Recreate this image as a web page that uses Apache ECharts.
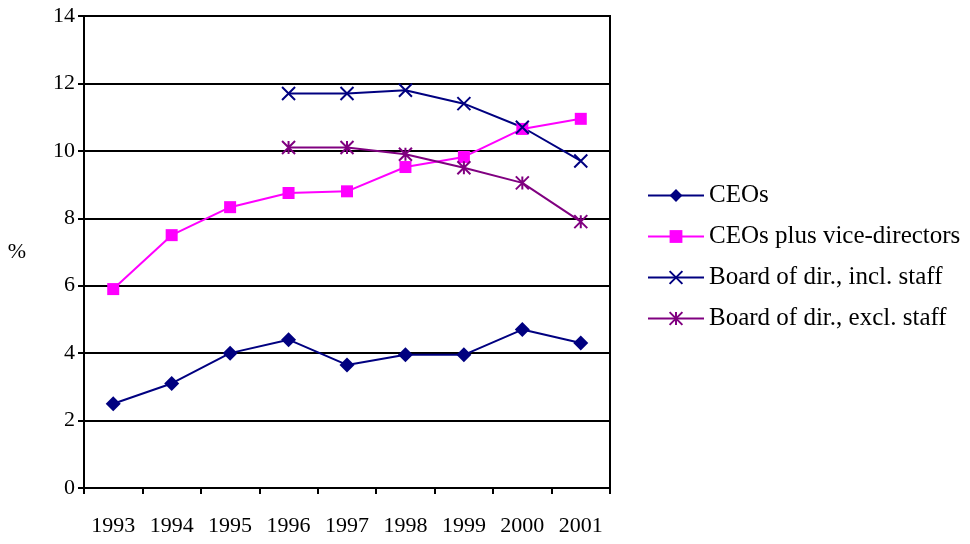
<!DOCTYPE html>
<html><head><meta charset="utf-8">
<script src="https://cdn.jsdelivr.net/npm/echarts@6/dist/echarts.min.js"></script>
<style>html,body{margin:0;padding:0;background:#fff}#c{width:970px;height:544px}</style>
</head><body><div id="c"></div>
<script>
const years = ['1993','1994','1995','1996','1997','1998','1999','2000','2001'];
const ceos = [2.5, 3.1, 4.0, 4.4, 3.65, 3.95, 3.95, 4.7, 4.3];
const ceosVice = [5.9, 7.5, 8.33, 8.75, 8.8, 9.52, 9.82, 10.65, 10.95];
const boardIncl = [null, null, null, 11.7, 11.7, 11.8, 11.4, 10.7, 9.7];
const boardExcl = [null, null, null, 10.1, 10.1, 9.9, 9.5, 9.05, 7.9];
const names = ['CEOs', 'CEOs plus vice-directors', 'Board of dir., incl. staff', 'Board of dir., excl. staff'];

const font = 'Liberation Serif';
const fs = 22;
const crossPath = 'path://M0,0L10,10M10,0L0,10';
const starPath = 'path://M0,0L10,10M10,0L0,10M5,0L5,10';

const chart = echarts.init(document.getElementById('c'));
chart.setOption({
  animation: false,
  textStyle: {fontFamily: font},
  grid: {left: 84, right: 360, top: 16, bottom: 56, show: true, borderColor: '#000', borderWidth: 2},
  legend: {
    orient: 'vertical', left: 642, top: 178,
    itemWidth: 56, itemHeight: 16, itemGap: 16,
    textStyle: {fontFamily: font, fontSize: 25, color: '#000'},
    data: names
  },
  xAxis: {
    type: 'category', data: years, boundaryGap: true,
    axisLine: {lineStyle: {color: '#000', width: 2}},
    axisTick: {show: true, length: 6, lineStyle: {color: '#000', width: 2}},
    axisLabel: {fontFamily: font, fontSize: fs, color: '#000', margin: 27}
  },
  yAxis: {
    type: 'value', min: 0, max: 14, interval: 2,
    name: '%', nameLocation: 'middle', nameRotate: 0, nameGap: 58,
    nameTextStyle: {fontFamily: font, fontSize: fs, color: '#000'},
    axisLine: {show: true, lineStyle: {color: '#000', width: 2}},
    axisTick: {show: true, length: 6, lineStyle: {color: '#000', width: 2}},
    axisLabel: {fontFamily: font, fontSize: fs, color: '#000', margin: 9},
    splitLine: {lineStyle: {color: '#000', width: 2}}
  },
  series: [
    {name: names[0], type: 'line', data: ceos, symbol: 'diamond', symbolSize: 15,
     itemStyle: {color: '#000080'}, lineStyle: {color: '#000080', width: 2}},
    {name: names[1], type: 'line', data: ceosVice, symbol: 'rect', symbolSize: 12,
     itemStyle: {color: '#FF00FF'}, lineStyle: {color: '#FF00FF', width: 2}},
    {name: names[2], type: 'line', data: boardIncl, symbol: crossPath, symbolSize: 13,
     itemStyle: {color: '#000080', borderColor: '#000080', borderWidth: 2}, lineStyle: {color: '#000080', width: 2}},
    {name: names[3], type: 'line', data: boardExcl, symbol: starPath, symbolSize: 13,
     itemStyle: {color: '#800080', borderColor: '#800080', borderWidth: 2}, lineStyle: {color: '#800080', width: 2}}
  ]
});
</script></body></html>
